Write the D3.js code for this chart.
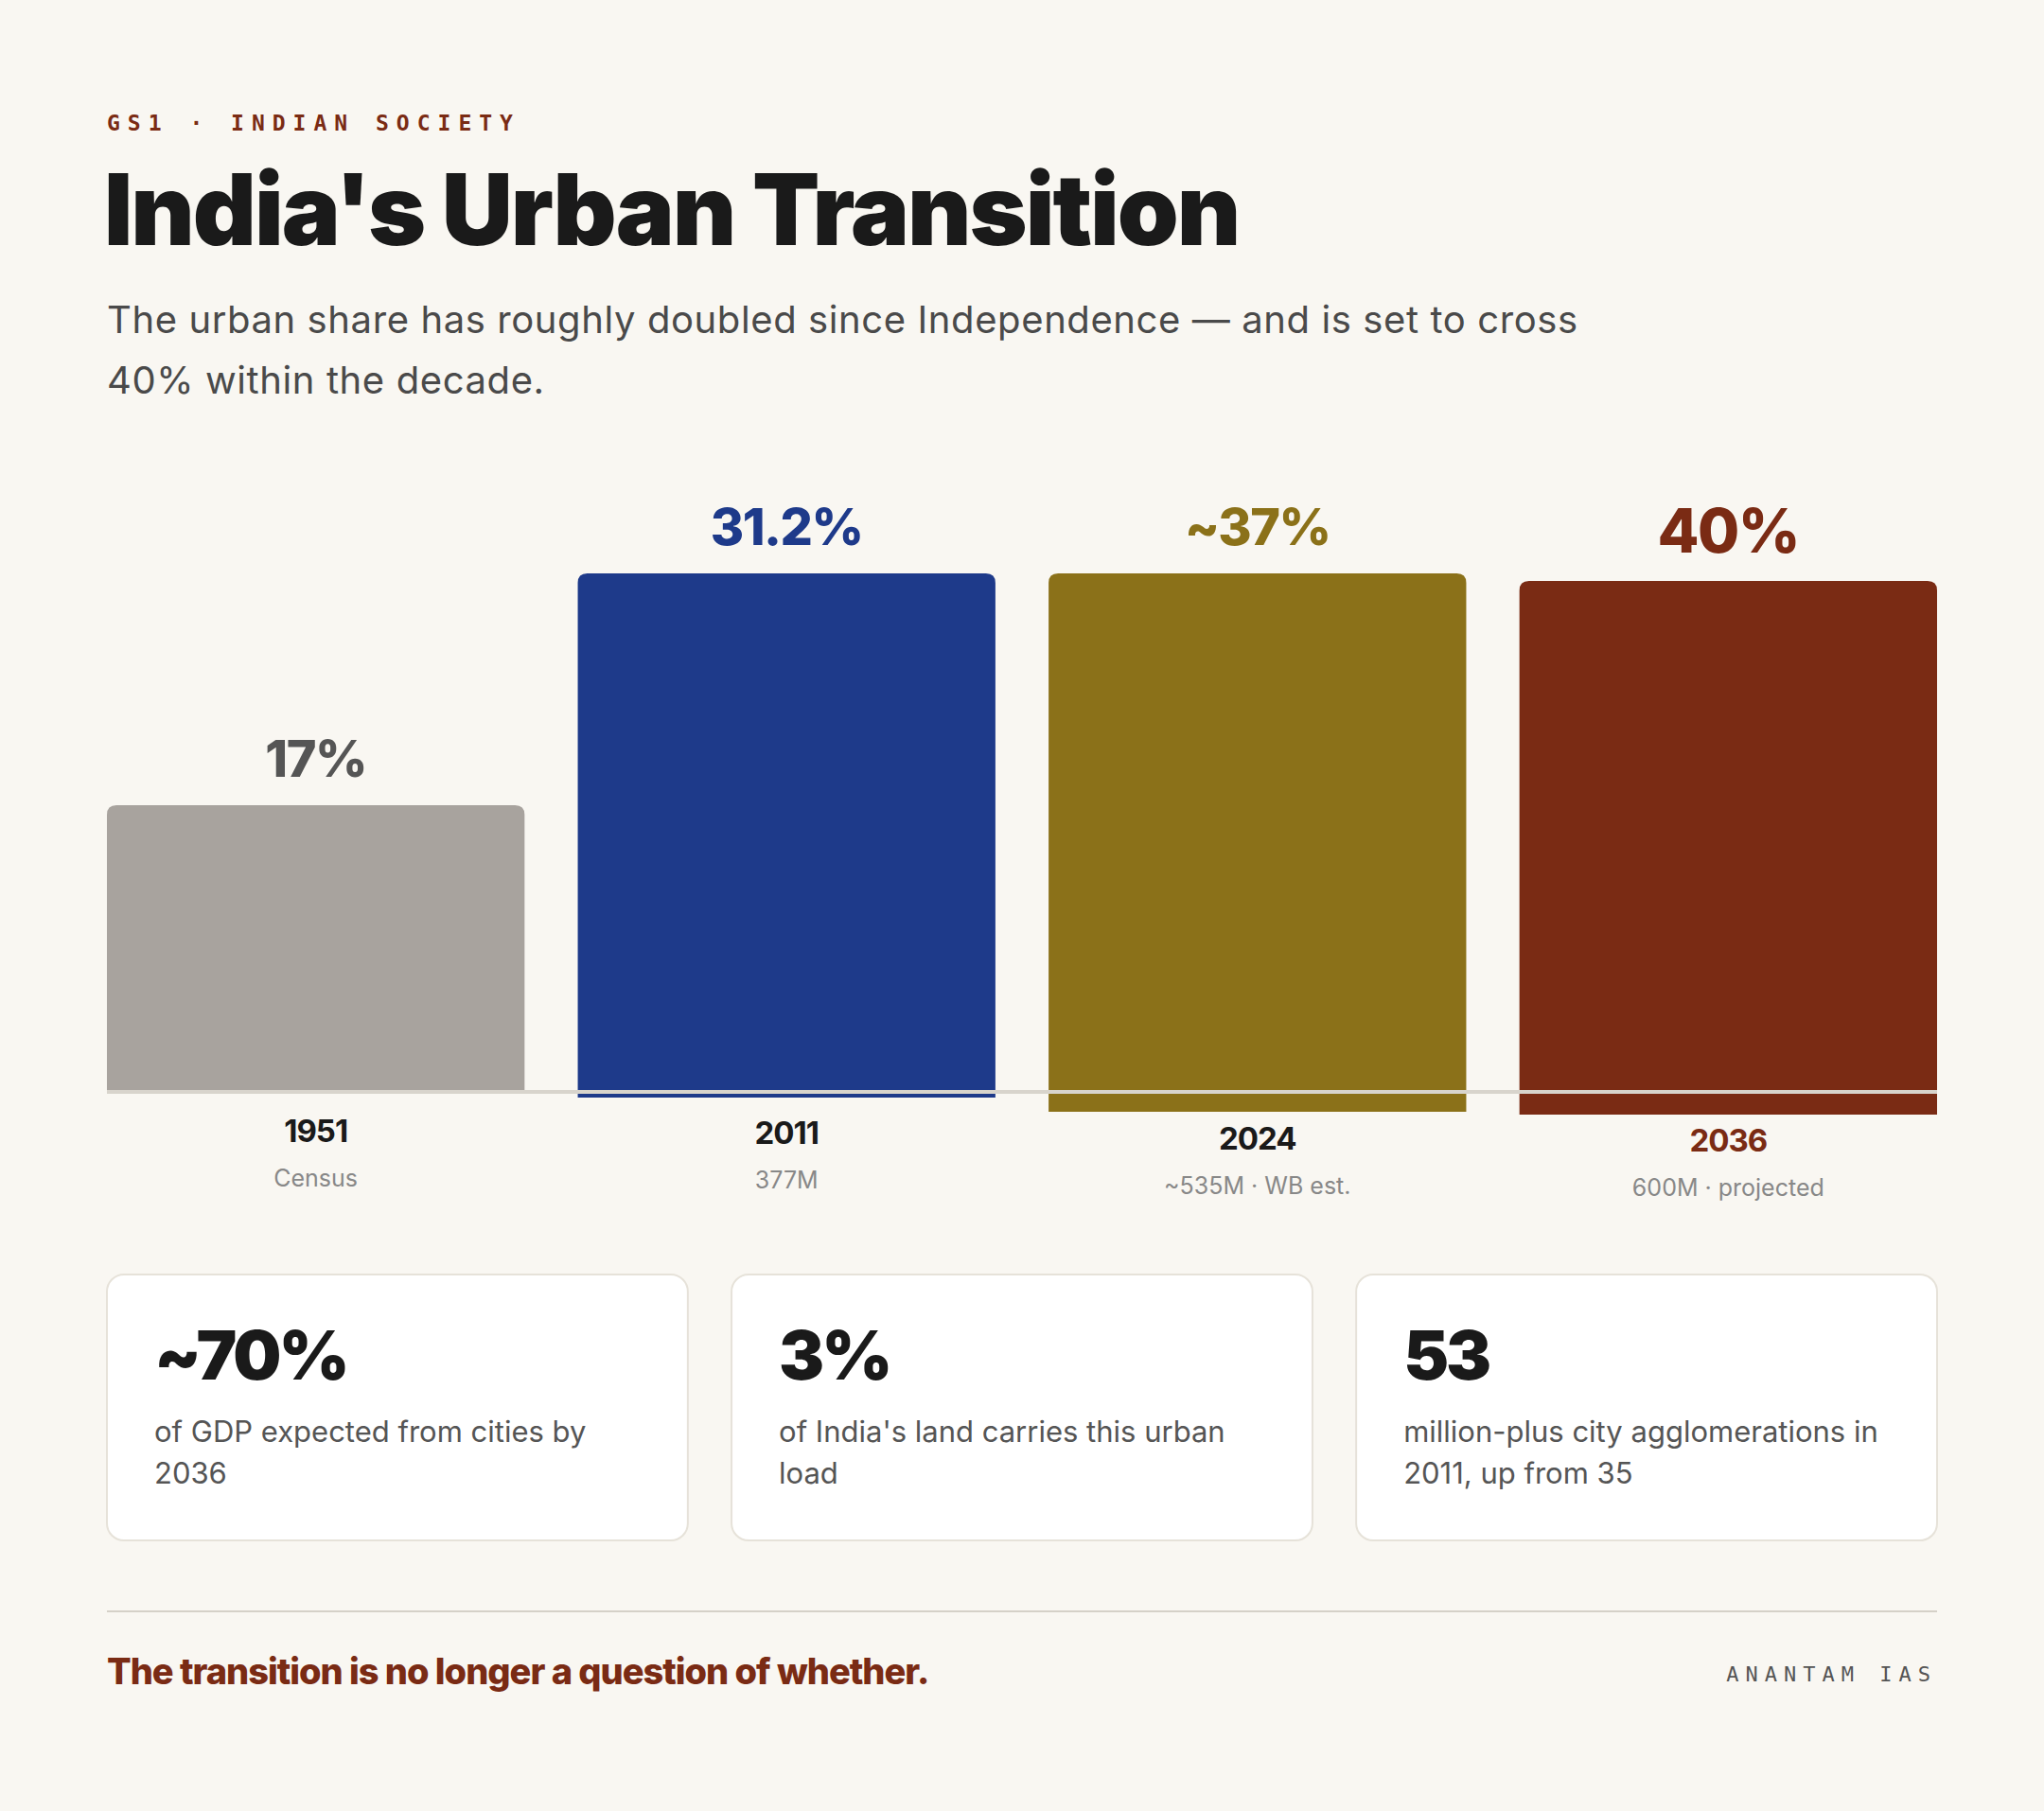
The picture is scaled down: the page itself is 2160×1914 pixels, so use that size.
<!DOCTYPE html>
<html><head><meta charset="utf-8">
<script src="https://cdn.jsdelivr.net/npm/d3@7"></script>
<style>body{margin:0;background:#f9f7f2}</style></head>
<body><script>
const years=["1951","2011","2024","2036"];
const values=[17,31.2,37,40];
const valueLabels=["17%","31.2%","~37%","40%"];
const subLabels=["Census","377M","~535M · WB est.","600M · projected"];
const statValues=["~70%","3%","53"];
const statTexts=[["of GDP expected from cities by","2036"],["of India's land carries this urban","load"],["million-plus city agglomerations in","2011, up from 35"]];

const W=2160,H=1914;
const colors=["#a8a39e","#1e3a8a","#8b7119","#7a2b14"];
const labelColors=["#555","#1e3a8a","#8b7119","#7a2b14"];
const svg=d3.select("body").append("svg").attr("width",W).attr("height",H);
svg.append("rect").attr("width",W).attr("height",H).attr("fill","#f9f7f2");
const sans="Inter, 'Open Sans', sans-serif", mono="'DejaVu Sans Mono', monospace";

svg.append("text").attr("x",113).attr("y",138).text("GS1 · INDIAN SOCIETY")
 .attr("font-family",mono).attr("font-weight",700).attr("font-size",23).attr("letter-spacing",8).attr("fill","#7a2b14");
svg.append("text").attr("x",110).attr("y",259).text("India's Urban Transition")
 .attr("font-family",sans).attr("font-weight",900).attr("font-size",104).attr("letter-spacing",-2).attr("fill","#1a1a1a");
["The urban share has roughly doubled since Independence — and is set to cross","40% within the decade."].forEach((t,i)=>
 svg.append("text").attr("x",113).attr("y",352+i*64).text(t).attr("font-family",sans).attr("font-size",40).attr("letter-spacing",0.6).attr("fill","#4a4a4a"));

// bars
const x=d3.scaleBand().domain(years).range([113,2047]).paddingInner(0.113);
const base=1154;
// non-linear display scale reproducing the reference's bar heights
const y=d3.scaleLinear().domain([0,17,31.2,37,40]).range([base,851,606,606,614]);
const drop=[0,6,21,24]; // bars in reference extend below baseline
const g=svg.append("g");
years.forEach((yr,i)=>{
  const x0=x(yr),bw=x.bandwidth(),top=y(values[i]),bot=base+drop[i],r=10;
  g.append("path").attr("fill",colors[i])
   .attr("d",`M${x0},${bot}V${top+r}Q${x0},${top} ${x0+r},${top}H${x0+bw-r}Q${x0+bw},${top} ${x0+bw},${top+r}V${bot}Z`);
  g.append("text").attr("x",x0+bw/2).attr("y",top-30).attr("text-anchor","middle").text(valueLabels[i])
   .attr("font-family",sans).attr("font-weight",800).attr("font-size",i==3?64:54).attr("letter-spacing",-1.5).attr("fill",labelColors[i]);
  g.append("text").attr("x",x0+bw/2).attr("y",base+53+drop[i]*0.4).attr("text-anchor","middle").text(yr)
   .attr("font-family",sans).attr("font-weight",700).attr("font-size",33).attr("letter-spacing",-1).attr("fill",i==3?"#7a2b14":"#1a1a1a");
  g.append("text").attr("x",x0+bw/2).attr("y",base+100+drop[i]*0.4).attr("text-anchor","middle").text(subLabels[i])
   .attr("font-family",sans).attr("font-size",25).attr("fill","#888");
});
svg.append("line").attr("x1",113).attr("x2",2047).attr("y1",base).attr("y2",base).attr("stroke","#d8d4cc").attr("stroke-width",4);

// cards
const cx=d3.scaleBand().domain(d3.range(3)).range([113,2047]).paddingInner(0.07);
statValues.forEach((v,i)=>{
  const x0=cx(i);
  svg.append("rect").attr("x",x0).attr("y",1347).attr("width",cx.bandwidth()).attr("height",281).attr("rx",18)
   .attr("fill","#fff").attr("stroke","#e6e2d9").attr("stroke-width",2);
  svg.append("text").attr("x",x0+50).attr("y",1458).text(v).attr("font-family",sans).attr("font-weight",900)
   .attr("font-size",72).attr("letter-spacing",-3).attr("fill","#1a1a1a");
  statTexts[i].forEach((t,j)=>svg.append("text").attr("x",x0+50).attr("y",1524+j*44).text(t)
   .attr("font-family",sans).attr("font-size",31).attr("fill","#555"));
});
svg.append("line").attr("x1",113).attr("x2",2047).attr("y1",1703).attr("y2",1703).attr("stroke","#d5d1c8").attr("stroke-width",2);
svg.append("text").attr("x",113).attr("y",1780).text("The transition is no longer a question of whether.")
 .attr("font-family",sans).attr("font-weight",800).attr("font-size",38).attr("letter-spacing",-1).attr("fill","#7a2b14");
svg.append("text").attr("x",2047).attr("y",1777).attr("text-anchor","end").text("ANANTAM IAS")
 .attr("font-family",mono).attr("font-size",22).attr("letter-spacing",7).attr("fill","#555");
</script></body></html>
